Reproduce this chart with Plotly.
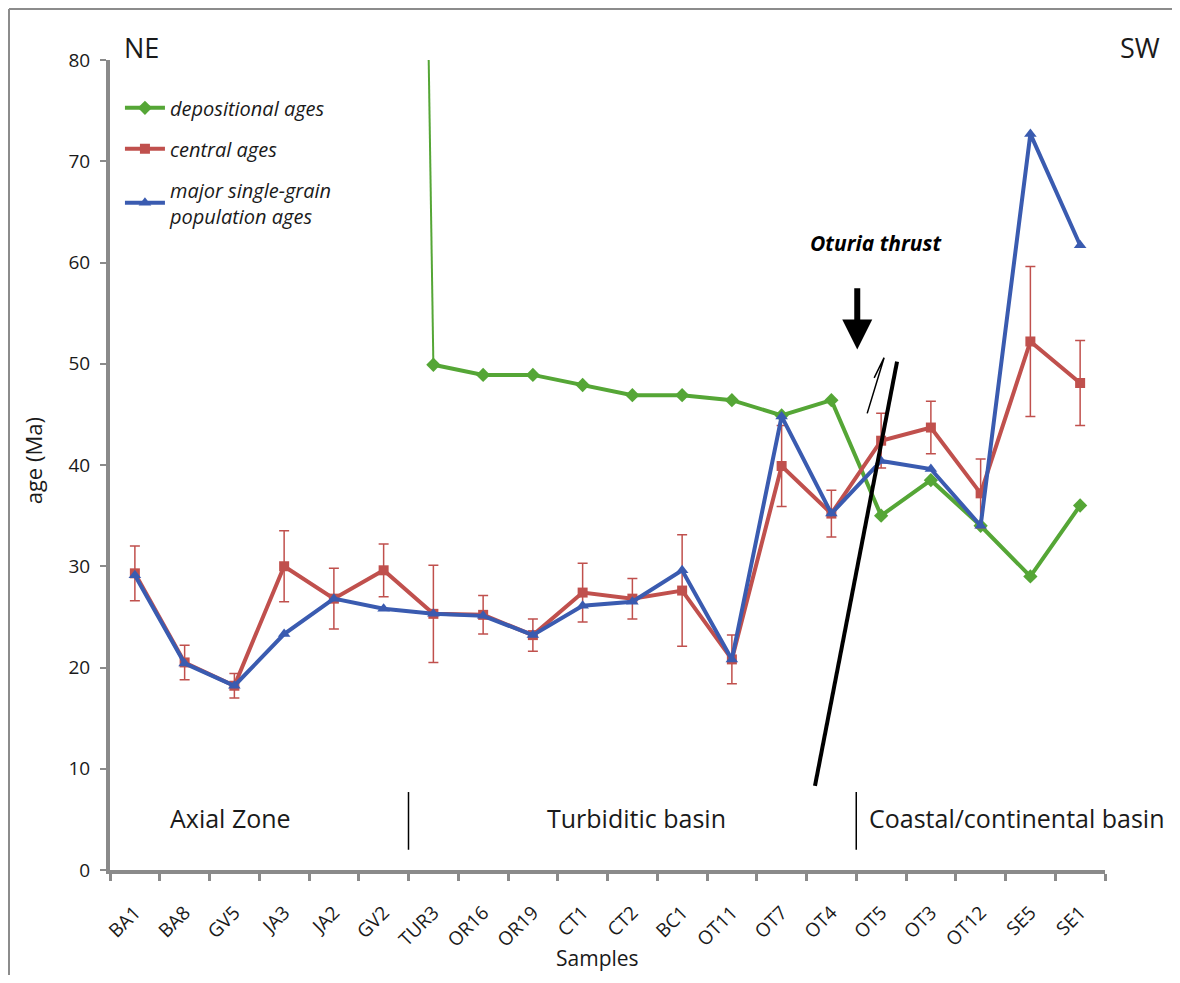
import plotly.graph_objects as go

samples = ["BA1", "BA8", "GV5", "JA3", "JA2", "GV2", "TUR3", "OR16", "OR19", "CT1",
           "CT2", "BC1", "OT11", "OT7", "OT4", "OT5", "OT3", "OT12", "SE5", "SE1"]

# depositional ages (start at TUR3); GV2 value is off-scale (only the steep connector is visible)
dep_samples = ["TUR3", "OR16", "OR19", "CT1", "CT2", "BC1", "OT11", "OT7", "OT4",
               "OT5", "OT3", "OT12", "SE5", "SE1"]
dep_ages = [49.9, 48.9, 48.9, 47.9, 46.9, 46.9, 46.4, 44.9, 46.4, 35.0, 38.5, 34.0, 29.0, 36.0]
dep_offscale_gv2 = 370

central_ages = [29.3, 20.5, 18.2, 30.0, 26.8, 29.6, 25.3, 25.2, 23.2, 27.4,
                26.8, 27.6, 20.8, 39.9, 35.2, 42.4, 43.7, 37.2, 52.2, 48.1]
central_err = [2.7, 1.7, 1.2, 3.5, 3.0, 2.6, 4.8, 1.9, 1.6, 2.9,
               2.0, 5.5, 2.4, 4.0, 2.3, 2.7, 2.6, 3.4, 7.4, 4.2]

major_ages = [29.1, 20.4, 18.2, 23.3, 26.8, 25.8, 25.3, 25.1, 23.2, 26.1,
              26.5, 29.6, 20.8, 44.8, 35.2, 40.4, 39.6, 34.0, 72.7, 61.7]

GREEN = "#55a636"
RED = "#c0504d"
BLUE = "#3a5bb0"
AXIS = "#8a8a8a"
BG = "white"
FONT = "Open Sans"

fig = go.Figure()

# steep connector of depositional ages (off-scale older value)
fig.add_trace(go.Scatter(x=["GV2", "TUR3"], y=[dep_offscale_gv2, dep_ages[0]], mode="lines",
                         line=dict(color=GREEN, width=2), showlegend=False, hoverinfo="skip"))

fig.add_trace(go.Scatter(x=dep_samples, y=dep_ages, mode="lines+markers", name="depositional ages",
                         line=dict(color=GREEN, width=4), legendgroup="a",
                         marker=dict(symbol="diamond", size=11, color=GREEN)))

fig.add_trace(go.Scatter(x=samples, y=central_ages, mode="lines+markers", name="central ages",
                         line=dict(color=RED, width=4), legendgroup="b",
                         marker=dict(symbol="square", size=10, color=RED),
                         error_y=dict(type="data", array=central_err, visible=True,
                                      color=RED, thickness=1.5, width=5)))

fig.add_trace(go.Scatter(x=samples, y=major_ages, mode="lines+markers",
                         name="major single-grain<br>population ages",
                         line=dict(color=BLUE, width=4), legendgroup="c",
                         marker=dict(symbol="triangle-up", size=11, color=BLUE)))

fig.update_layout(
    width=1164, height=967,
    margin=dict(l=102, r=67, t=52, b=105),
    paper_bgcolor=BG, plot_bgcolor=BG,
    font=dict(family=FONT, size=19, color="#1a1a1a"),
    legend=dict(x=0.01, y=0.965, xanchor="left", yanchor="top", bgcolor="rgba(0,0,0,0)",
                font=dict(family=FONT, size=20, style="italic", color="#1a1a1a"),
                traceorder="grouped", tracegroupgap=12, itemwidth=40),
    xaxis=dict(type="category", categoryorder="array", categoryarray=samples,
               range=[-0.5, 19.5], tickson="boundaries", ticks="outside", ticklen=7,
               tickwidth=3, tickcolor=AXIS, showline=True, linewidth=4, linecolor=AXIS,
               showgrid=False, zeroline=False, tickangle=-45, ticklabelstandoff=20,
               tickfont=dict(size=19)),
    yaxis=dict(range=[0, 80], dtick=10, ticks="outside", ticklen=6, tickwidth=2,
               tickcolor=AXIS, showline=True, linewidth=4, linecolor=AXIS,
               showgrid=False, zeroline=False, tickfont=dict(size=19), ticklabelstandoff=6),
)

def note(text, x, y, ref="paper", size=25, **kw):
    return dict(text=text, x=x, y=y, xref="paper" if ref == "paper" else "x",
                yref="paper" if ref == "paper" else "y", showarrow=False,
                xanchor="center", yanchor="middle", font=dict(size=size, **kw))

annotations = [
    note("NE", 0.032, 1.015, size=27),
    note("SW", 1.035, 1.015, size=27),
    dict(text="age (Ma)", x=-0.077, y=0.505, xref="paper", yref="paper", showarrow=False,
         xanchor="center", yanchor="middle", textangle=-90, font=dict(size=22)),
    note("Samples", 0.49, -0.1086, size=21),
    note("Axial Zone", 1.93, 5.1, ref="data"),
    note("Turbiditic basin", 10.08, 5.1, ref="data"),
    note("Coastal/continental basin", 17.73, 5.1, ref="data"),
    note("Oturia thrust", 14.9, 61.9, ref="data", size=21, weight="bold", style="italic",
         color="black"),
    dict(text="", x=14.52, y=51.4, ax=14.52, ay=57.6, xref="x", yref="y", axref="x", ayref="y",
         showarrow=True, arrowhead=2, arrowsize=1.0, arrowwidth=6, arrowcolor="black"),
]
fig.update_layout(annotations=annotations)

shapes = [
    # divider lines
    dict(type="line", x0=5.5, x1=5.5, y0=2.0, y1=7.7, xref="x", yref="y",
         line=dict(color="black", width=1.5)),
    dict(type="line", x0=14.5, x1=14.5, y0=2.0, y1=7.7, xref="x", yref="y",
         line=dict(color="black", width=1.5)),
    # thrust line
    dict(type="line", x0=13.67, y0=8.3, x1=15.32, y1=50.2, xref="x", yref="y",
         line=dict(color="black", width=4)),
    # half-arrow of thrust sense
    dict(type="path", path="M 14.72 45.1 L 15.06 50.6 L 14.86 48.6", xref="x", yref="y",
         line=dict(color="black", width=1.5)),
    # outer frame (left and top edges only visible)
    dict(type="line", x0=-0.1015, x1=-0.1015, y0=-0.25, y1=1.063, xref="paper", yref="paper",
         line=dict(color="#8c8c8c", width=2), layer="below"),
    dict(type="line", x0=-0.1015, x1=1.25, y0=1.063, y1=1.063, xref="paper", yref="paper",
         line=dict(color="#8c8c8c", width=2), layer="below"),
]
fig.update_layout(shapes=shapes)

fig.write_html("out.html")
